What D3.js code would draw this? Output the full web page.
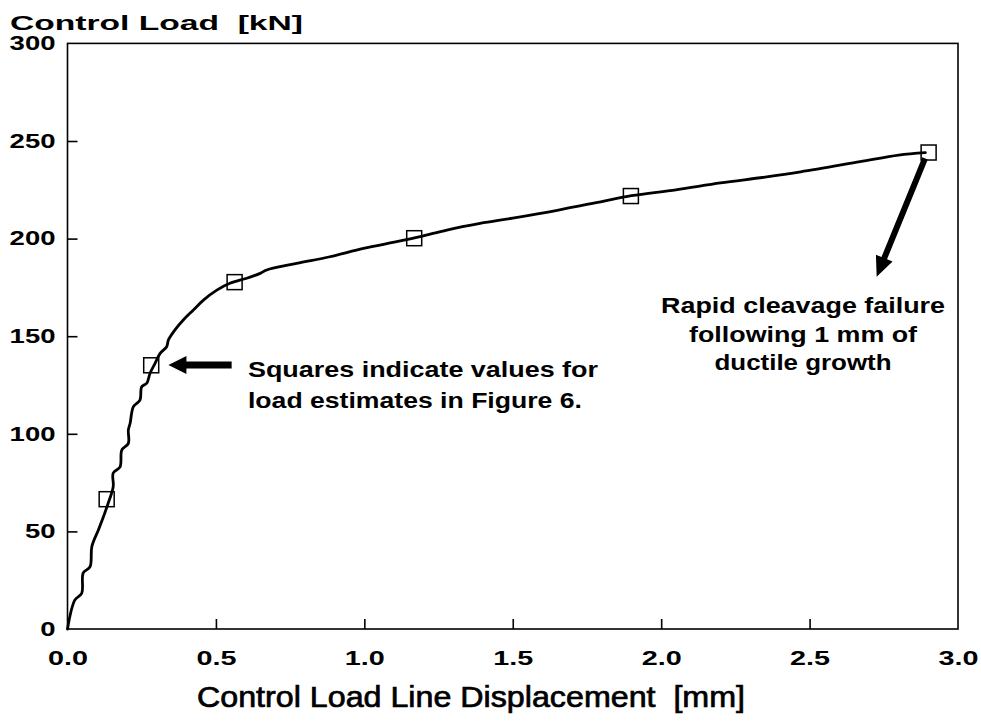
<!DOCTYPE html>
<html>
<head>
<meta charset="utf-8">
<script src="https://cdn.jsdelivr.net/npm/d3@7/dist/d3.min.js"></script>
<style>
  html, body { margin: 0; padding: 0; background: #fff; }
  svg { display: block; }
  text { font-family: "Liberation Sans", Arial, Helvetica, sans-serif; font-weight: bold; fill: #000; white-space: pre; }
</style>
</head>
<body>
<svg id="chart" width="981" height="723"></svg>
<script>
// ---- data ----
const curveX = [0, 0.025, 0.048, 0.053, 0.076, 0.082, 0.104, 0.121, 0.137, 0.154, 0.154, 0.177, 0.183, 0.205, 0.205,
  0.211, 0.222, 0.244, 0.250, 0.267, 0.278, 0.295, 0.312, 0.334, 0.340, 0.362, 0.390, 0.424, 0.458, 0.503, 0.547,
  0.604, 0.649, 0.671, 0.772, 0.884, 0.997, 1.109, 1.188, 1.278, 1.390, 1.50, 1.65, 1.80, 1.90, 2.05, 2.20, 2.35,
  2.47, 2.67, 2.80, 2.89];
const curveY = [0, 14.9, 18.3, 28.7, 31.9, 42.2, 50.7, 57.5, 64.4, 72.9, 79.9, 83.1, 91.7, 95.1, 101.9,
  105.4, 113.9, 117.3, 124.1, 125.9, 131.0, 136.1, 141.2, 144.6, 148.1, 153.2, 158.3, 163.4, 168.5, 173.6, 177.1,
  179.7, 182.2, 183.9, 187.3, 190.7, 195.0, 198.4, 201.0, 204.4, 207.8, 210.5, 214.5, 219.0, 222.0, 225.0, 228.5, 231.5,
  234.2, 239.4, 242.8, 244.0];
const squareX = [0.132, 0.282, 0.563, 1.168, 1.898, 2.901];
const squareY = [66.5, 135.1, 177.7, 200.2, 221.8, 244.1];
const xTicks = [0, 0.5, 1.0, 1.5, 2.0, 2.5, 3.0];
const xTickLabels = ["0.0", "0.5", "1.0", "1.5", "2.0", "2.5", "3.0"];
const yTicks = [0, 50, 100, 150, 200, 250, 300];
const yTickLabels = ["0", "50", "100", "150", "200", "250", "300"];
const xTitle = "Control Load Line Displacement  [mm]";
const yTitle = "Control Load  [kN]";
const note1Lines = ["Squares indicate values for", "load estimates in Figure 6."];
const note2Lines = ["Rapid cleavage failure", "following 1 mm of", "ductile growth"];

// ---- layout ----
const svg = d3.select("#chart");
const x = d3.scaleLinear().domain([0, 3]).range([67.5, 958]);
const y = d3.scaleLinear().domain([0, 300]).range([629, 43.4]);

// frame
svg.append("rect")
  .attr("x", x(0)).attr("y", y(300))
  .attr("width", x(3) - x(0)).attr("height", y(0) - y(300))
  .attr("fill", "none").attr("stroke", "#000").attr("stroke-width", 1.6);

// axes with inward ticks
const xAxis = d3.axisBottom(x).tickValues(xTicks).tickSizeInner(-10).tickSizeOuter(0)
  .tickFormat((d, i) => xTickLabels[i]).tickPadding(22);
const gx = svg.append("g").attr("transform", `translate(0,${y(0)})`).call(xAxis);
gx.select(".domain").remove();
gx.selectAll(".tick line").attr("stroke", "#000").attr("stroke-width", 1.6);
gx.selectAll(".tick text").attr("font-size", 20).attr("dy", "0.71em")
  .attr("textLength", 40).attr("lengthAdjust", "spacingAndGlyphs");

const yAxis = d3.axisLeft(y).tickValues(yTicks).tickSizeInner(-10).tickSizeOuter(0)
  .tickFormat((d, i) => yTickLabels[i]).tickPadding(12);
const gy = svg.append("g").attr("transform", `translate(${x(0)},0)`).call(yAxis);
gy.select(".domain").remove();
gy.selectAll(".tick line").attr("stroke", "#000").attr("stroke-width", 1.6);
gy.selectAll(".tick text").attr("font-size", 19.5)
  .attr("textLength", (d, i) => yTickLabels[i].length * 15.3).attr("lengthAdjust", "spacingAndGlyphs");
gx.selectAll(".tick line").filter(d => d === 0 || d === 3).remove();
gy.selectAll(".tick line").filter(d => d === 0 || d === 300).remove();

// titles
svg.append("text").attr("x", 10).attr("y", 30).attr("font-size", 21)
  .attr("textLength", 293).attr("lengthAdjust", "spacingAndGlyphs").text(yTitle);
svg.append("text").attr("x", 197).attr("y", 707).attr("font-size", 29)
  .style("font-weight", "normal").attr("stroke", "#000").attr("stroke-width", 0.7)
  .attr("textLength", 548).attr("lengthAdjust", "spacingAndGlyphs").text(xTitle);

// curve
const pts = curveX.map((v, i) => [v, curveY[i]]);
svg.append("path").datum(pts)
  .attr("d", d3.line().x(d => x(d[0])).y(d => y(d[1])).curve(d3.curveCatmullRom.alpha(0.5)))
  .attr("fill", "none").attr("stroke", "#000").attr("stroke-width", 2.8)
  .attr("stroke-linejoin", "round").attr("stroke-linecap", "round");

// squares
svg.selectAll("rect.sq").data(squareX.map((v, i) => [v, squareY[i]])).enter()
  .append("rect").attr("class", "sq")
  .attr("x", d => x(d[0]) - 7.5).attr("y", d => y(d[1]) - 7.5)
  .attr("width", 15).attr("height", 15)
  .attr("fill", "none").attr("stroke", "#000").attr("stroke-width", 1.5);

// arrow 1 (horizontal, pointing left to second square)
const a1Tip = [x(0.34), y(135.2)];
const a1Tail = [x(0.553), y(135.2)];
svg.append("path")
  .attr("d", `M${a1Tip[0]},${a1Tip[1]} L${a1Tip[0] + 18},${a1Tip[1] - 9} L${a1Tip[0] + 18},${a1Tip[1] - 3.5}
    L${a1Tail[0]},${a1Tail[1] - 3.5} L${a1Tail[0]},${a1Tail[1] + 3.5} L${a1Tip[0] + 18},${a1Tip[1] + 3.5}
    L${a1Tip[0] + 18},${a1Tip[1] + 9} Z`)
  .attr("fill", "#000");

// arrow 2 (diagonal from last square down-left)
const a2Start = [x(2.889), y(241.1)];
const a2Tip = [x(2.726), y(180.5)];
{
  const dx = a2Tip[0] - a2Start[0], dy = a2Tip[1] - a2Start[1];
  const L = Math.hypot(dx, dy), ux = dx / L, uy = dy / L, px = -uy, py = ux;
  const hl = 20, hw = 9, sw = 3;
  const bx = a2Tip[0] - ux * hl, by = a2Tip[1] - uy * hl;
  const P = [
    [a2Start[0] + px * sw, a2Start[1] + py * sw],
    [bx + px * sw, by + py * sw],
    [bx + px * hw, by + py * hw],
    [a2Tip[0], a2Tip[1]],
    [bx - px * hw, by - py * hw],
    [bx - px * sw, by - py * sw],
    [a2Start[0] - px * sw, a2Start[1] - py * sw]
  ];
  svg.append("path").attr("d", "M" + P.map(p => p.join(",")).join("L") + "Z").attr("fill", "#000");
}

// annotation texts
const n1Widths = [350, 334];
svg.selectAll("text.n1").data(note1Lines).enter().append("text").attr("class", "n1")
  .attr("x", x(0.608)).attr("y", (d, i) => y(135.2) + 12 + i * 31)
  .attr("font-size", 22)
  .attr("textLength", (d, i) => n1Widths[i]).attr("lengthAdjust", "spacingAndGlyphs")
  .text(d => d);

const n2Widths = [284, 228, 177];
svg.selectAll("text.n2").data(note2Lines).enter().append("text").attr("class", "n2")
  .attr("x", (d, i) => x(2.478) - n2Widths[i] / 2).attr("y", (d, i) => y(167.5) + 11 + i * 28.5)
  .attr("font-size", 22)
  .attr("textLength", (d, i) => n2Widths[i]).attr("lengthAdjust", "spacingAndGlyphs")
  .text(d => d);
</script>
</body>
</html>
